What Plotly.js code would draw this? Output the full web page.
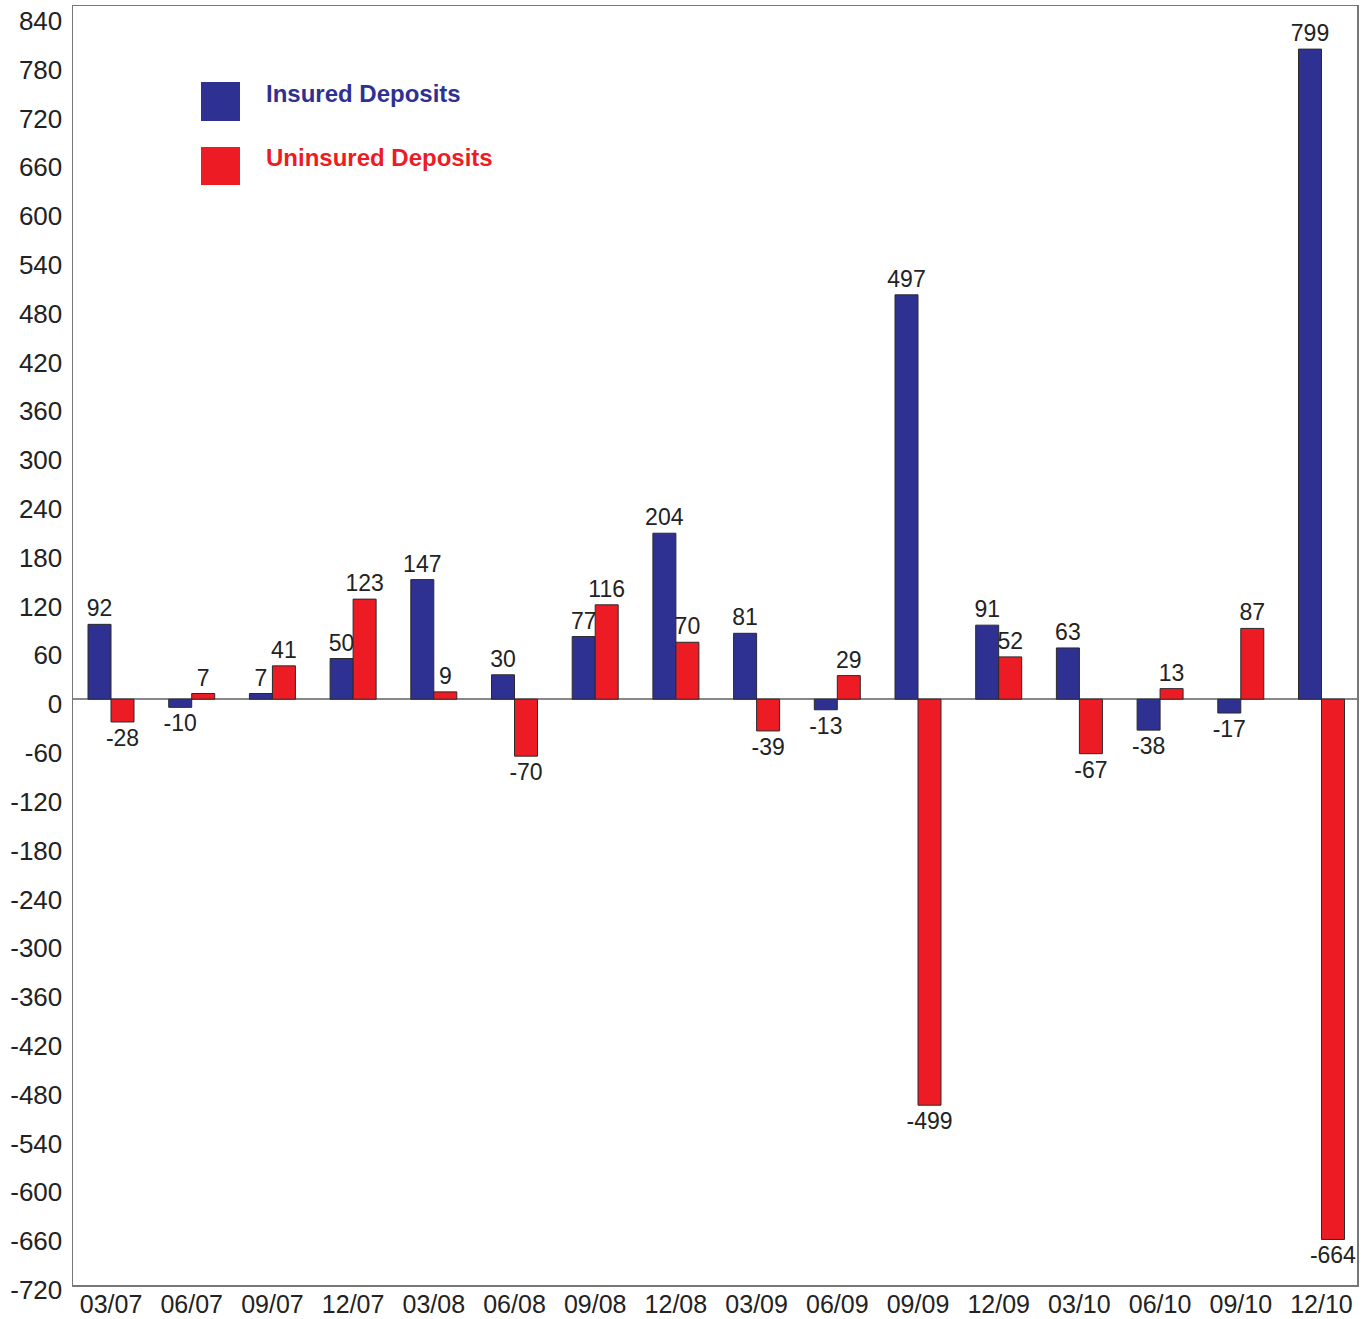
<!DOCTYPE html>
<html>
<head>
<meta charset="utf-8">
<script src="https://cdn.plot.ly/plotly-3.0.1.min.js"></script>
<style>html,body{margin:0;padding:0;background:#fff;}#chart{width:1368px;height:1319px;}</style>
</head>
<body>
<div id="chart"></div>
<script>
const categories = ["03/07","06/07","09/07","12/07","03/08","06/08","09/08","12/08","03/09","06/09","09/09","12/09","03/10","06/10","09/10","12/10"];
const insured = [92, -10, 7, 50, 147, 30, 77, 204, 81, -13, 497, 91, 63, -38, -17, 799];
const uninsured = [-28, 7, 41, 123, 9, -70, 116, 70, -39, 29, -499, 52, -67, 13, 87, -664];
const yTicks = [840,780,720,660,600,540,480,420,360,300,240,180,120,60,0,-60,-120,-180,-240,-300,-360,-420,-480,-540,-600,-660,-720];
const seriesNames = ["Insured Deposits", "Uninsured Deposits"];
const colors = ["#2E3192", "#ED1C24"];

const font = "Liberation Sans, Arial, sans-serif";
function mk(name, vals, color) {
  return {
    type: "bar", name: name, x: categories, y: vals,
    marker: {color: color, line: {color: "#2a2a2a", width: 1}},
    text: vals.map(String), textposition: "outside", constraintext: "none",
    cliponaxis: false,
    textfont: {family: font, size: 23, color: "#222"},
    hoverinfo: "x+y"
  };
}
const data = [mk(seriesNames[0], insured, colors[0]), mk(seriesNames[1], uninsured, colors[1])];

const layout = {
  width: 1368, height: 1319,
  margin: {l: 73, r: 11, t: 6, b: 34},
  paper_bgcolor: "#fff", plot_bgcolor: "#fff",
  barmode: "group", bargap: 0.43, bargroupgap: 0,
  showlegend: false,
  font: {family: font, color: "#222"},
  xaxis: {
    type: "category", range: [-0.471, 15.44], showgrid: false, zeroline: false,
    showline: true, mirror: true, linecolor: "#777", linewidth: 1.5,
    ticks: "", tickfont: {family: font, size: 25, color: "#222"}, ticklabelstandoff: -4
  },
  yaxis: {
    range: [-720, 852], tickvals: yTicks, ticktext: yTicks.map(String),
    showgrid: false, zeroline: true, zerolinecolor: "#888", zerolinewidth: 1.5,
    showline: true, mirror: true, linecolor: "#777", linewidth: 1.5,
    ticks: "", tickfont: {family: font, size: 26, color: "#222"}, ticklabelstandoff: 4,
    ticklabelshift: 5
  },
  shapes: [
    {type: "rect", xref: "paper", yref: "paper", x0: (201-73)/1284, x1: (240-73)/1284, y0: (1285.5-121)/1279.5, y1: (1285.5-82)/1279.5, fillcolor: colors[0], line: {width: 0}},
    {type: "rect", xref: "paper", yref: "paper", x0: (201-73)/1284, x1: (240-73)/1284, y0: (1285.5-185)/1279.5, y1: (1285.5-147)/1279.5, fillcolor: colors[1], line: {width: 0}}
  ],
  annotations: [
    {xref: "paper", yref: "paper", x: (264-73)/1284, y: (1285.5-94)/1279.5, xanchor: "left", yanchor: "middle", showarrow: false, text: "<b>" + seriesNames[0] + "</b>", font: {family: font, size: 24, color: colors[0]}},
    {xref: "paper", yref: "paper", x: (264-73)/1284, y: (1285.5-158)/1279.5, xanchor: "left", yanchor: "middle", showarrow: false, text: "<b>" + seriesNames[1] + "</b>", font: {family: font, size: 24, color: colors[1]}}
  ]
};
Plotly.newPlot("chart", data, layout, {displayModeBar: false, staticPlot: true});
</script>
</body>
</html>
